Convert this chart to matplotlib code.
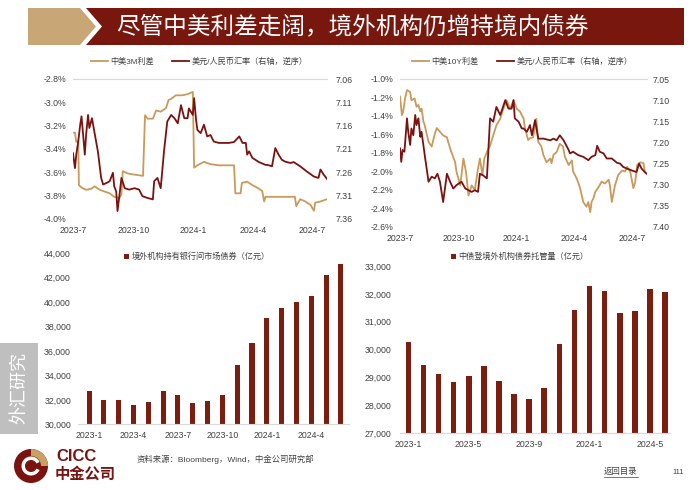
import numpy as np
import pandas as pd
import matplotlib
matplotlib.use("Agg")
import matplotlib.pyplot as plt
from matplotlib.patches import Polygon, Wedge, Circle, Rectangle
from matplotlib.ticker import FuncFormatter

plt.rcParams['font.family'] = ['Liberation Sans', 'Noto Sans CJK SC']

TAN = '#C99A5B'
DARK = '#7A1210'
BAR = '#7A1E10'
TXT = '#404040'
START = pd.Timestamp('2023-07-01')

# 中美3M利差(%)，横轴为自2023-07-01起的天数
spread3m_day = [0, 3, 5, 8, 9, 13, 20, 28, 33, 41, 46, 56, 63, 71, 74, 76, 84, 94, 107, 110,
                114, 122, 127, 134, 142, 146, 150, 157, 167, 175, 183, 185, 190, 200, 210, 223,
                238, 246, 248, 256, 258, 266, 274, 281, 289, 292, 294, 309, 324, 339, 341, 347,
                355, 363, 368, 370, 378, 388]
spread3m_val = [-3.26, -3.26, -3.34, -3.33, -3.71, -3.73, -3.75, -3.74, -3.72, -3.75, -3.76,
                -3.78, -3.81, -3.82, -3.79, -3.59, -3.61, -3.62, -3.63, -3.11, -3.14, -3.14,
                -3.07, -3.08, -3.05, -2.98, -2.97, -2.94, -2.94, -2.93, -2.91, -3.56, -3.54,
                -3.51, -3.53, -3.54, -3.54, -3.54, -3.78, -3.78, -3.69, -3.68, -3.71, -3.73,
                -3.76, -3.85, -3.81, -3.81, -3.81, -3.81, -3.89, -3.83, -3.85, -3.88, -3.93,
                -3.86, -3.85, -3.83]

# 美元/人民币汇率（左上图）
fx1_day = [0, 3, 5, 8, 11, 13, 15, 18, 20, 23, 25, 29, 33, 38, 43, 46, 51, 56, 61, 63, 66, 68,
           71, 74, 79, 86, 94, 101, 106, 114, 122, 124, 129, 134, 139, 144, 150, 155, 160, 165,
           170, 175, 177, 183, 185, 188, 190, 195, 200, 205, 210, 215, 223, 231, 238, 246, 254,
           259, 264, 266, 269, 274, 284, 294, 297, 304, 309, 314, 319, 324, 332, 337, 347, 357,
           368, 375, 378, 383, 388]
fx1_val = [7.219, 7.251, 7.222, 7.194, 7.158, 7.140, 7.172, 7.222, 7.180, 7.137, 7.165, 7.144,
           7.176, 7.215, 7.272, 7.286, 7.283, 7.279, 7.261, 7.290, 7.301, 7.343, 7.308, 7.272,
           7.294, 7.297, 7.294, 7.297, 7.311, 7.315, 7.318, 7.279, 7.272, 7.294, 7.215, 7.151,
           7.137, 7.144, 7.155, 7.116, 7.144, 7.144, 7.123, 7.137, 7.101, 7.148, 7.169, 7.176,
           7.158, 7.183, 7.180, 7.194, 7.197, 7.197, 7.197, 7.195, 7.183, 7.197, 7.197, 7.222,
           7.215, 7.229, 7.238, 7.244, 7.244, 7.247, 7.208, 7.222, 7.233, 7.237, 7.240, 7.238,
           7.247, 7.258, 7.269, 7.272, 7.254, 7.265, 7.274]

# 中美10Y利差(%)
spread10y_day = [0, 3, 5, 8, 11, 16, 18, 23, 26, 29, 32, 34, 37, 39, 45, 50, 55, 58, 63, 68,
                 74, 76, 81, 87, 89, 95, 100, 104, 108, 113, 118, 123, 126, 130, 133, 137, 142,
                 147, 152, 158, 163, 168, 174, 179, 184, 189, 195, 197, 202, 205, 210, 215, 218,
                 223, 226, 231, 237, 239, 242, 247, 252, 257, 260, 266, 271, 273, 279, 284, 289,
                 294, 297, 300, 302, 305, 308, 313, 318, 323, 329, 331, 334, 339, 344, 350, 355,
                 358, 363, 368, 371, 374, 379, 384, 386]
spread10y_val = [-1.19, -1.39, -1.35, -1.21, -1.12, -1.14, -1.23, -1.21, -1.30, -1.28, -1.35,
                 -1.32, -1.46, -1.50, -1.68, -1.73, -1.59, -1.53, -1.57, -1.61, -1.63, -1.68,
                 -1.79, -1.90, -2.00, -2.15, -1.86, -2.00, -2.26, -2.15, -2.20, -1.97, -1.86,
                 -2.04, -1.86, -1.79, -1.72, -1.61, -1.50, -1.43, -1.32, -1.23, -1.32, -1.23,
                 -1.32, -1.35, -1.43, -1.53, -1.66, -1.64, -1.63, -1.43, -1.68, -1.73, -1.82,
                 -1.90, -1.86, -1.91, -1.82, -1.79, -1.70, -1.73, -1.84, -1.93, -1.88, -2.00,
                 -2.08, -2.18, -2.33, -2.38, -2.33, -2.44, -2.33, -2.29, -2.22, -2.17, -2.11,
                 -2.13, -2.09, -2.15, -2.33, -2.15, -2.04, -1.99, -2.00, -1.95, -2.00, -2.18,
                 -2.11, -1.93, -1.90, -1.91, -2.00]

# 美元/人民币汇率（右上图）
fx2_day = [0, 2, 4, 7, 11, 13, 16, 18, 21, 24, 26, 29, 32, 34, 39, 45, 50, 55, 59, 63, 68, 74,
           79, 84, 89, 97, 103, 108, 113, 118, 123, 126, 131, 137, 142, 147, 152, 158, 160, 166,
           171, 176, 179, 181, 187, 192, 195, 200, 205, 208, 213, 218, 226, 237, 242, 247, 252,
           258, 266, 268, 273, 281, 289, 297, 302, 308, 311, 315, 321, 326, 334, 342, 347, 352,
           358, 365, 373, 377, 381, 386, 389]
fx2_val = [7.214, 7.246, 7.218, 7.222, 7.143, 7.175, 7.206, 7.167, 7.183, 7.135, 7.159, 7.143,
           7.187, 7.175, 7.230, 7.293, 7.281, 7.285, 7.274, 7.293, 7.341, 7.274, 7.293, 7.309,
           7.301, 7.293, 7.309, 7.313, 7.317, 7.313, 7.317, 7.274, 7.278, 7.285, 7.143, 7.151,
           7.116, 7.135, 7.127, 7.100, 7.120, 7.120, 7.100, 7.143, 7.151, 7.167, 7.167, 7.175,
           7.159, 7.183, 7.147, 7.191, 7.191, 7.195, 7.191, 7.195, 7.183, 7.195, 7.218, 7.226,
           7.222, 7.230, 7.234, 7.242, 7.234, 7.230, 7.208, 7.222, 7.226, 7.238, 7.238, 7.248,
           7.250, 7.258, 7.262, 7.266, 7.270, 7.250, 7.262, 7.270, 7.274]

months = ['2023-1', '2023-2', '2023-3', '2023-4', '2023-5', '2023-6', '2023-7', '2023-8',
          '2023-9', '2023-10', '2023-11', '2023-12', '2024-1', '2024-2', '2024-3', '2024-4',
          '2024-5', '2024-6']
holdings = [32760, 31970, 32020, 31610, 31830, 32700, 32370, 31720, 31880, 32370, 34890,
            36660, 38710, 39500, 39990, 40530, 42250, 43130]
custody = [30290, 29440, 29140, 28830, 29040, 29400, 28880, 28400, 28230, 28610, 30190,
           31420, 32270, 32100, 31300, 31400, 32160, 32080]

title = '尽管中美利差走阔，境外机构仍增持境内债券'
source = '资料来源：Bloomberg，Wind，中金公司研究部'


def px(x0, y0, x1, y1):
    return [x0 / 700, 1 - y1 / 490, (x1 - x0) / 700, (y1 - y0) / 490]


def to_dates(days):
    return START + pd.to_timedelta(days, unit='D')


fig = plt.figure(figsize=(7, 4.9), dpi=100)

# 页面装饰层
deco = fig.add_axes([0, 0, 1, 1])
deco.set_xlim(0, 700)
deco.set_ylim(490, 0)
deco.axis('off')
deco.add_patch(Polygon([(28, 8), (80, 8), (96, 26.5), (80, 45), (28, 45)], closed=True,
                       color='#C8A676', lw=0))
deco.add_patch(Polygon([(86, 8), (684, 8), (684, 45), (86, 45), (102, 26.5)], closed=True,
                       color='#78170E', lw=0))
deco.text(116, 27, title, color='white', fontsize=17, va='center', ha='left',
          family=['Noto Sans CJK SC'])
deco.add_patch(Rectangle((0, 343), 38, 91, color='#BFBFBF', lw=0))
deco.text(19, 388, '外汇研究', color='white', fontsize=13, rotation=90, va='center',
          ha='center', family=['Noto Sans CJK SC'])
# CICC标志
deco.add_patch(Circle((31, 466), 17, color=DARK, lw=0))
deco.add_patch(Wedge((31, 466), 17, 270, 360, width=7, color='#C8A064', lw=0))
deco.add_patch(Wedge((31, 466), 9.5, 25, 335, width=3.5, color='white', lw=0))
deco.text(56, 456, 'CICC', color=DARK, fontsize=12, fontweight='bold', va='center', ha='left')
deco.text(55, 474, '中金公司', color=DARK, fontsize=11, fontweight='bold', va='center', ha='left',
          family=['Noto Sans CJK SC'])
deco.text(137, 459, source, color=TXT, fontsize=6, va='center', ha='left')
deco.text(604, 472, '返回目录', color=TXT, fontsize=6, va='center', ha='left')
deco.plot([604, 638], [477, 477], color=TXT, lw=0.5)
deco.text(672, 472, '111', color=TXT, fontsize=5.5, va='center', ha='left')


def line_panel(rect, sp_day, sp_val, fx_day, fx_val, ylim, yticks, rlim, rticks, xmax, lab, lpad, rpad, leg_xy):
    ax = fig.add_axes(rect)
    ax2 = ax.twinx()
    l1, = ax.plot(to_dates(sp_day), sp_val, color=TAN, lw=1.3, label=lab)
    l2, = ax2.plot(to_dates(fx_day), fx_val, color=DARK, lw=1.3, label='美元/人民币汇率（右轴，逆序）')
    ax.set_xlim(START, START + pd.Timedelta(days=xmax))
    ax.set_ylim(*ylim)
    ax.set_yticks(yticks)
    ax.yaxis.set_major_formatter(FuncFormatter(lambda v, _: f'{v:.1f}%'))
    ax2.set_ylim(*rlim)
    ax2.set_yticks(rticks)
    ax2.yaxis.set_major_formatter(FuncFormatter(lambda v, _: f'{v:.2f}'))
    ticks = pd.to_datetime(['2023-07-01', '2023-10-01', '2024-01-01', '2024-04-01', '2024-07-01'])
    ax.set_xticks(ticks)
    ax.set_xticklabels(['2023-7', '2023-10', '2024-1', '2024-4', '2024-7'])
    for a in (ax, ax2):
        for s in a.spines.values():
            s.set_visible(False)
        a.tick_params(length=0, labelsize=6.3, colors=TXT)
    ax.spines['top'].set_visible(True)
    ax.spines['top'].set_color('#D9D9D9')
    ax.spines['top'].set_linewidth(0.8)
    ax.tick_params(axis='x', pad=5)
    ax.tick_params(axis='y', pad=lpad)
    ax2.tick_params(axis='y', pad=rpad)
    fig.legend([l1, l2], [l1.get_label(), l2.get_label()], loc='center',
               bbox_to_anchor=(leg_xy[0] / 700, 1 - leg_xy[1] / 490), ncol=2, frameon=False,
               fontsize=5.9, handlelength=2.1, handletextpad=0.3, columnspacing=2.2,
               labelcolor=TXT)
    return ax


line_panel(px(73, 79, 327, 219), spread3m_day, spread3m_val, fx1_day, fx1_val,
           (-4.0, -2.8), np.arange(-4.0, -2.79, 0.2), (7.36, 7.06), np.arange(7.06, 7.361, 0.05),
           388, '中美3M利差', 5, 6, (199, 62))
line_panel(px(400, 79, 647, 227), spread10y_day, spread10y_val, fx2_day, fx2_val,
           (-2.6, -1.0), np.arange(-2.6, -0.99, 0.2), (7.40, 7.05), np.arange(7.05, 7.401, 0.05),
           389.5, '中美10Y利差', 5, 4, (522, 62))


def bar_panel(rect, vals, ylim, step, xlim, every, width, lpad, lab, leg_xy):
    ax = fig.add_axes(rect)
    x = np.arange(len(months))
    ax.bar(x, vals, width=width, color=BAR, label=lab)
    ax.set_xlim(*xlim)
    ax.set_ylim(*ylim)
    ax.set_yticks(np.arange(ylim[0], ylim[1] + 1, step))
    ax.yaxis.set_major_formatter(FuncFormatter(lambda v, _: f'{v:,.0f}'))
    ax.set_xticks(x[::every])
    ax.set_xticklabels(months[::every])
    for s in ax.spines.values():
        s.set_visible(False)
    ax.spines['bottom'].set_visible(True)
    ax.spines['bottom'].set_color('#D9D9D9')
    ax.tick_params(length=0, labelsize=6.3, colors=TXT)
    ax.tick_params(axis='x', pad=5)
    ax.tick_params(axis='y', pad=lpad)
    ax.legend(loc='center', bbox_to_anchor=(leg_xy[0] / 700, 1 - leg_xy[1] / 490),
              bbox_transform=fig.transFigure, frameon=False, fontsize=5.9,
              handlelength=0.6, handleheight=0.6, handletextpad=0.3, labelcolor=TXT)
    return ax


bar_panel(px(78, 253.3, 349, 424.3), holdings, (30000, 44000), 2000, (-0.75, 17.55), 3, 0.34, 5,
          '境外机构持有银行间市场债券（亿元）', (197, 257))
bar_panel(px(400, 266, 670, 433.3), custody, (27000, 33000), 1000, (-0.55, 17.33), 4, 0.37, 6,
          '中债登境外机构债券托管量（亿元）', (520, 257))

fig.savefig('out.png', dpi=100)
